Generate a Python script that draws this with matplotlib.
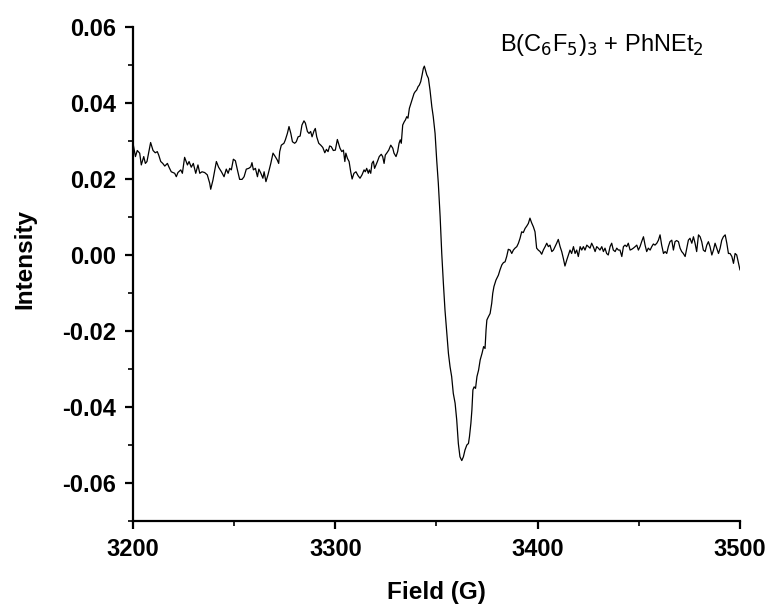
import matplotlib
matplotlib.use("Agg")
import matplotlib.pyplot as plt
from matplotlib.ticker import MultipleLocator

plt.rcParams['font.family'] = ['Liberation Sans', 'DejaVu Sans']

# EPR spectrum: magnetic field (G) and first-derivative intensity
field = [
    3200.0, 3201.2, 3202.1, 3203.3, 3204.1, 3205.3, 3206.1, 3206.9, 3208.7, 3209.9,
    3211.0, 3212.0, 3212.7, 3213.7, 3214.7, 3215.7, 3217.0, 3217.8, 3218.9, 3220.6,
    3221.4, 3222.2, 3223.6, 3224.4, 3225.5, 3226.9, 3227.7, 3228.8, 3229.8, 3231.0,
    3232.1, 3233.0, 3234.1, 3235.4, 3236.7, 3237.9, 3238.4, 3239.5, 3241.2, 3242.3,
    3243.7, 3245.0, 3246.1, 3247.0, 3247.8, 3248.6, 3249.6, 3250.6, 3251.6,
    3252.7, 3253.9, 3254.9, 3256.0, 3257.2, 3258.2, 3258.8, 3259.5, 3260.5, 3261.5,
    3262.2, 3263.2, 3264.2, 3264.8, 3265.7, 3266.7, 3268.1, 3269.2, 3270.3, 3271.3,
    3272.0, 3272.5, 3273.3, 3274.6, 3275.3, 3276.3, 3277.1, 3278.0, 3278.8, 3279.9,
    3280.7, 3281.6, 3282.6, 3283.5, 3284.5, 3285.2, 3286.2, 3287.0, 3287.8, 3288.5,
    3289.5, 3290.1, 3290.8, 3291.8, 3292.8, 3293.8, 3294.8, 3295.6, 3296.4, 3297.2,
    3298.0, 3299.0, 3300.0, 3301.0,
    3302.3, 3303.2, 3304.0, 3304.7, 3305.2, 3306.0, 3306.8, 3307.6, 3308.3, 3309.2,
    3310.2, 3311.2, 3312.2, 3313.2, 3314.2, 3314.8, 3315.5, 3316.3, 3316.8, 3317.5,
    3318.1, 3318.8, 3319.4, 3320.1, 3320.8, 3321.7, 3322.7, 3323.4, 3324.1, 3324.7,
    3325.4, 3326.4, 3327.4, 3328.4, 3329.0, 3330.0, 3330.8, 3331.5, 3332.1, 3332.6,
    3333.3, 3334.1, 3334.6, 3335.3, 3335.9, 3336.6, 3337.9, 3338.9, 3339.5, 3340.2,
    3340.9, 3341.5, 3342.2, 3342.9, 3343.5, 3344.0, 3344.5, 3345.2, 3346.0, 3346.8,
    3347.7, 3348.4, 3349.3, 3350.1, 3350.9, 3351.8, 3352.6, 3353.4, 3354.2, 3355.1,
    3355.9, 3356.7, 3357.5, 3358.3, 3359.2, 3360.0, 3360.8, 3361.6, 3362.5, 3363.3,
    3364.1, 3365.0, 3365.8, 3366.3, 3367.0, 3367.5, 3368.0, 3368.6, 3369.3, 3370.0,
    3370.8, 3371.6, 3372.5, 3373.3, 3374.0, 3374.5, 3374.9, 3375.7, 3376.5, 3377.3,
    3377.8, 3378.4, 3379.4, 3380.6, 3381.4, 3382.3, 3383.1, 3383.9, 3384.7, 3385.5,
    3386.4, 3387.2, 3388.0, 3388.8, 3389.7, 3390.5, 3391.3, 3392.1, 3392.9, 3393.8,
    3394.6, 3395.4, 3396.2, 3397.0, 3397.9, 3398.7, 3399.5, 3400.3, 3401.2, 3402.0,
    3402.8, 3403.7, 3404.5, 3405.3, 3406.1, 3407.0, 3407.8, 3408.6, 3409.4, 3410.2,
    3411.1, 3411.9, 3412.7, 3413.5, 3414.4, 3415.2, 3416.0, 3416.8, 3417.7, 3418.5,
    3419.3, 3420.1, 3421.0, 3421.8, 3422.6, 3423.4, 3424.3, 3425.1, 3425.9, 3426.7,
    3427.5, 3428.4, 3429.2, 3430.0, 3430.8, 3431.7, 3432.5, 3433.3, 3434.1, 3434.9,
    3435.8, 3436.6, 3437.4, 3438.3, 3439.1, 3439.9, 3440.7,
    3441.6, 3442.4, 3443.2, 3444.0, 3444.8, 3445.7, 3446.5, 3447.3, 3448.2, 3449.0,
    3449.8, 3450.6, 3451.4, 3452.3, 3453.1, 3453.9, 3454.7, 3455.6, 3456.4, 3457.2,
    3458.0, 3458.9, 3459.7, 3460.5, 3461.3, 3462.2, 3463.0, 3463.8, 3464.6, 3465.4,
    3466.3, 3467.1, 3467.9, 3468.7, 3469.6, 3470.4, 3471.2, 3472.0, 3472.9, 3473.7,
    3474.5, 3475.3, 3476.2, 3477.0, 3477.8, 3478.6, 3479.5, 3480.3, 3481.1, 3481.9,
    3482.8, 3483.6, 3484.4, 3485.2, 3486.1, 3486.9, 3487.7, 3488.5, 3489.4, 3490.2,
    3491.0, 3491.8, 3492.7, 3493.5, 3494.3, 3495.1, 3496.0, 3496.8, 3497.6, 3498.4,
    3499.3, 3500.0,
]

intensity = [
    0.0294, 0.0259, 0.0275, 0.0268, 0.0237, 0.0259, 0.0241, 0.0246, 0.0296, 0.0275,
    0.0269, 0.0272, 0.0263, 0.0246, 0.0241, 0.0234, 0.0241, 0.0231, 0.0219, 0.0215,
    0.0206, 0.0217, 0.0224, 0.0215, 0.0257, 0.0237, 0.0246, 0.0231, 0.0241, 0.0215,
    0.0237, 0.0215, 0.0219, 0.0217, 0.0211, 0.0189, 0.0173, 0.0197, 0.0246, 0.0231,
    0.0219, 0.0206, 0.0226, 0.0215, 0.0228, 0.0224, 0.0252, 0.0248, 0.0224,
    0.0199, 0.0199, 0.0206, 0.0226, 0.0228, 0.0232, 0.0243, 0.0224, 0.0228, 0.0206,
    0.0226, 0.0215, 0.0202, 0.0219, 0.0193, 0.0211, 0.0241, 0.0268, 0.0259, 0.0250,
    0.0241, 0.0272, 0.0289, 0.0294, 0.0303, 0.0320, 0.0338, 0.0320, 0.0298, 0.0294,
    0.0298, 0.0311, 0.0313, 0.0342, 0.0353, 0.0347, 0.0325, 0.0320, 0.0325, 0.0311,
    0.0327, 0.0333, 0.0311, 0.0294, 0.0289, 0.0283, 0.0269, 0.0278, 0.0272, 0.0287,
    0.0285, 0.0275, 0.0276, 0.0304,
    0.0281, 0.0272, 0.0276, 0.0246, 0.0268, 0.0254, 0.0246, 0.0219, 0.0200, 0.0215,
    0.0219, 0.0209, 0.0202, 0.0211, 0.0224, 0.0219, 0.0228, 0.0215, 0.0224, 0.0215,
    0.0241, 0.0247, 0.0228, 0.0237, 0.0246, 0.0259, 0.0265, 0.0259, 0.0241, 0.0263,
    0.0268, 0.0276, 0.0289, 0.0281, 0.0268, 0.0259, 0.0272, 0.0294, 0.0303, 0.0294,
    0.0342, 0.0351, 0.0355, 0.0364, 0.0360, 0.0386, 0.0408, 0.0425, 0.0430, 0.0434,
    0.0443, 0.0447, 0.0456, 0.0474, 0.0491, 0.0497, 0.0487, 0.0474, 0.0465, 0.0434,
    0.0390, 0.0364, 0.0320, 0.0250, 0.0189, 0.0101, 0.0004, -0.0074, -0.0145, -0.0206,
    -0.0259, -0.0294, -0.0320, -0.0364, -0.0390, -0.0434, -0.0496, -0.0531, -0.0541, -0.0531,
    -0.0513, -0.0500, -0.0496, -0.0478, -0.0443, -0.0408, -0.0355, -0.0347, -0.0351, -0.0320,
    -0.0303, -0.0276, -0.0259, -0.0241, -0.0246, -0.0197, -0.0171, -0.0162, -0.0154, -0.0127,
    -0.0101, -0.0083, -0.0066, -0.0053, -0.0039, -0.0026, -0.0020, -0.0018, -0.0004, 0.0015,
    0.0013, 0.0004, 0.0013, 0.0018, 0.0022, 0.0031, 0.0044, 0.0061, 0.0059, 0.0070,
    0.0076, 0.0083, 0.0097, 0.0085, 0.0074, 0.0061, 0.0018, 0.0013, 0.0009, 0.0002,
    0.0013, 0.0022, 0.0031, 0.0022, 0.0026, 0.0009, 0.0013, 0.0022, 0.0031, 0.0041,
    0.0022, 0.0009, -0.0009, -0.0029, -0.0013, 0.0000, 0.0013, 0.0004, 0.0022, 0.0004,
    0.0013, -0.0004, 0.0022, 0.0013, 0.0022, 0.0013, 0.0026, 0.0022, 0.0018, 0.0031,
    0.0022, 0.0009, 0.0022, 0.0018, 0.0013, 0.0022, 0.0009, 0.0018, 0.0004, 0.0000,
    0.0022, 0.0031, 0.0013, 0.0009, 0.0018, 0.0013, 0.0013,
    -0.0004, 0.0022, 0.0026, 0.0022, 0.0031, 0.0013, 0.0015, 0.0018, 0.0022, 0.0026,
    0.0013, 0.0022, 0.0035, 0.0048, 0.0026, 0.0009, 0.0018, 0.0013, 0.0022, 0.0029,
    0.0026, 0.0031, 0.0039, 0.0053, 0.0026, 0.0004, 0.0009, 0.0004, 0.0022, 0.0035,
    0.0039, 0.0013, 0.0035, 0.0038, 0.0035, 0.0018, 0.0009, 0.0004, -0.0004, 0.0018,
    0.0039, 0.0044, 0.0031, 0.0048, 0.0031, 0.0009, 0.0053, 0.0048, 0.0035, 0.0013,
    0.0009, 0.0026, 0.0035, 0.0022, 0.0000, 0.0013, 0.0031, 0.0018, 0.0004, 0.0018,
    0.0039, 0.0048, 0.0053, 0.0031, 0.0004, 0.0004, -0.0004, -0.0022, 0.0004, 0.0000,
    -0.0022, -0.0039,
]

x_ticks = [3200, 3300, 3400, 3500]
y_ticks = [-0.06, -0.04, -0.02, 0.00, 0.02, 0.04, 0.06]
y_tick_labels = ['-0.06', '-0.04', '-0.02', '0.00', '0.02', '0.04', '0.06']
sample_label = r'B(C$_6$F$_5$)$_3$ + PhNEt$_2$'

fig = plt.figure(figsize=(7.72, 6.08), dpi=100)
ax = fig.add_axes([0.1723, 0.1431, 0.7862, 0.8125])

ax.plot(field, intensity, color='black', linewidth=0.9)

ax.set_xlim(3200, 3500)
ax.set_ylim(-0.07, 0.06)
ax.set_xticks(x_ticks)
ax.set_yticks(y_ticks)
ax.set_yticklabels(y_tick_labels)
ax.xaxis.set_minor_locator(MultipleLocator(50))
ax.yaxis.set_minor_locator(MultipleLocator(0.01))

for side in ('top', 'right'):
    ax.spines[side].set_visible(False)
for side in ('left', 'bottom'):
    ax.spines[side].set_linewidth(1.6)

ax.tick_params(axis='both', which='major', direction='out', length=6, width=1.6,
               labelsize=17, pad=6)
ax.tick_params(axis='both', which='minor', direction='out', length=3.5, width=1.2)
for lab in ax.get_xticklabels() + ax.get_yticklabels():
    lab.set_fontweight('bold')

ax.set_xlabel('Field (G)', fontsize=17.5, fontweight='bold', labelpad=15)
ax.set_ylabel('Intensity', fontsize=17.5, fontweight='bold')
ax.yaxis.set_label_coords(-0.16, 0.53)

ax.text(0.605, 0.963, sample_label, transform=ax.transAxes, fontsize=17,
        ha='left', va='center')

fig.savefig('out.png', dpi=100)
